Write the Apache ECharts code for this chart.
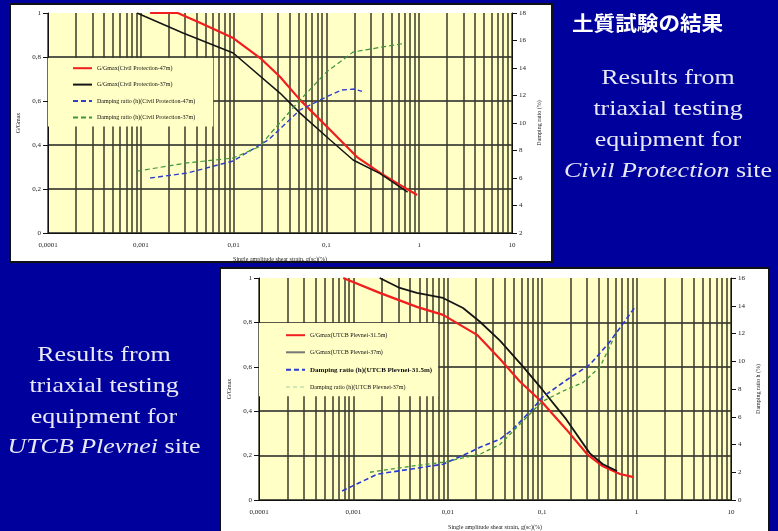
<!DOCTYPE html>
<html>
<head>
<meta charset="utf-8">
<script src="https://cdn.jsdelivr.net/npm/echarts/dist/echarts.min.js"></script>
<style>
html, body { margin: 0; padding: 0; background: #00009c; }
#main { width: 778px; height: 531px; }
</style>
</head>
<body>
<div id="main"></div>
<script>
// tick labels
const xTickLabels = ['0,0001', '0,001', '0,01', '0,1', '1', '10']
const gLabels = ['0', '0,2', '0,4', '0,6', '0,8', '1']
const minorSteps = [2, 3, 4, 5, 6, 7, 8, 9]
const decades = [0.0001, 0.001, 0.01, 0.1, 1]

// Civil Protection site: [strain %, value]
const cpG47 = [[0.00126, 1.0], [0.0025, 1.0], [0.0044, 0.955], [0.0099, 0.886], [0.02, 0.79], [0.0316, 0.71], [0.052, 0.605], [0.11, 0.468], [0.214, 0.345], [0.38, 0.273], [0.6, 0.222], [0.95, 0.173]]
const cpG37 = [[0.00091, 1.0], [0.00285, 0.909], [0.0099, 0.818], [0.0316, 0.636], [0.052, 0.545], [0.11, 0.423], [0.194, 0.332], [0.38, 0.27], [0.75, 0.186]]
const cpH47 = [[0.00126, 6.0], [0.00316, 6.36], [0.0099, 7.24], [0.024, 8.8], [0.052, 10.95], [0.1, 11.9], [0.147, 12.4], [0.2, 12.47], [0.242, 12.3]]
const cpH37 = [[0.00091, 6.5], [0.00316, 7.1], [0.0099, 7.45], [0.0193, 8.3], [0.0247, 9.2], [0.052, 11.67], [0.1, 13.7], [0.194, 15.16], [0.38, 15.5], [0.7, 15.8]]

// UTCB Plevnei site
const utG31 = [[0.00078, 1.0], [0.0019, 0.933], [0.0047, 0.87], [0.0089, 0.834], [0.0204, 0.744], [0.0357, 0.635], [0.058, 0.534], [0.1, 0.44], [0.18, 0.318], [0.3, 0.206], [0.44, 0.152], [0.667, 0.117], [0.93, 0.103]]
const utG37 = [[0.0019, 1.0], [0.0031, 0.955], [0.0047, 0.933], [0.0089, 0.91], [0.0145, 0.865], [0.0219, 0.803], [0.0357, 0.718], [0.063, 0.6], [0.1, 0.498], [0.18, 0.363], [0.32, 0.21], [0.44, 0.161], [0.62, 0.13]]
const utH31 = [[0.00076, 0.65], [0.0018, 1.87], [0.004, 2.22], [0.0089, 2.58], [0.0172, 3.44], [0.0219, 3.8], [0.0357, 4.38], [0.049, 5.1], [0.08, 6.6], [0.1, 7.4], [0.197, 8.82], [0.32, 9.76], [0.52, 11.4], [0.96, 13.9]]
const utH37 = [[0.0015, 2.0], [0.004, 2.43], [0.0089, 2.72], [0.0219, 3.3], [0.0357, 4.0], [0.1, 7.1], [0.18, 7.96], [0.27, 8.46], [0.41, 9.6], [0.52, 11.05], [0.58, 11.76]]

const serif = '"Liberation Serif", "DejaVu Serif", serif'
const gridColor = '#3a3a2a'
const plotBg = '#ffffc6'
const textColor = '#e8e8f6'
const xName = 'Single amplitude shear strain, g(sc)(%)'

const minorX = []
decades.forEach(d => minorSteps.forEach(s => minorX.push(+(d * s).toPrecision(3))))

function logX(gridIndex, nameGap) {
  return {
    type: 'log',
    logBase: 10,
    gridIndex: gridIndex,
    min: 0.0001,
    max: 10,
    name: xName,
    nameLocation: 'middle',
    nameGap: nameGap,
    nameTextStyle: { fontFamily: serif, fontSize: 6, color: '#222' },
    axisLine: { show: true, lineStyle: { color: '#111', width: 1 } },
    axisTick: { show: false },
    axisLabel: {
      fontFamily: serif,
      fontSize: 7,
      color: '#222',
      margin: 9,
      formatter: v => xTickLabels[Math.round(Math.log10(v)) + 4]
    },
    splitLine: { show: true, lineStyle: { color: gridColor, width: 1.5 } }
  }
}

function leftY(gridIndex) {
  return {
    type: 'value',
    gridIndex: gridIndex,
    position: 'left',
    min: 0,
    max: 1,
    interval: 0.2,
    name: 'G/Gmax',
    nameLocation: 'middle',
    nameGap: 25,
    nameTextStyle: { fontFamily: serif, fontSize: 6, color: '#222' },
    axisLine: { show: true, lineStyle: { color: '#111', width: 1 } },
    axisTick: { show: true, inside: false, length: 5, lineStyle: { color: '#111' } },
    axisLabel: {
      fontFamily: serif,
      fontSize: 7,
      color: '#222',
      margin: 7,
      formatter: v => gLabels[Math.round(v / 0.2)]
    },
    splitLine: { show: true, showMaxLine: false, lineStyle: { color: '#222', width: 1.5 } }
  }
}

function rightY(gridIndex, min, max, name) {
  return {
    type: 'value',
    gridIndex: gridIndex,
    position: 'right',
    min: min,
    max: max,
    interval: 2,
    name: name,
    nameLocation: 'middle',
    nameRotate: 90,
    nameGap: 22,
    nameTextStyle: { fontFamily: serif, fontSize: 6, color: '#222' },
    axisLine: { show: true, lineStyle: { color: '#111', width: 1 } },
    axisTick: { show: true, inside: false, length: 5, lineStyle: { color: '#111' } },
    axisLabel: { fontFamily: serif, fontSize: 7, color: '#222', margin: 7 },
    splitLine: { show: false }
  }
}

// minor log gridlines (2..9 in every decade), kept under the legend boxes
function minorGrid(axisIndex) {
  return {
    type: 'line',
    xAxisIndex: axisIndex,
    yAxisIndex: axisIndex * 2,
    data: [],
    z: 1,
    silent: true,
    markLine: {
      z: 1,
      silent: true,
      precision: 8,
      symbol: 'none',
      label: { show: false },
      lineStyle: { color: gridColor, width: 1.5, type: 'solid' },
      data: minorX.map(v => ({ xAxis: v }))
    }
  }
}

function curve(name, data, xi, yi, color, width, type) {
  return {
    name: name,
    type: 'line',
    xAxisIndex: xi,
    yAxisIndex: yi,
    data: data,
    symbol: 'none',
    z: 3,
    itemStyle: { color: color },
    lineStyle: { color: color, width: width, type: type || 'solid' }
  }
}

function legendBox(left, top, padding, gap, items) {
  return {
    orient: 'vertical',
    left: left,
    top: top,
    padding: padding,
    itemWidth: 19,
    itemHeight: 8,
    itemGap: gap,
    backgroundColor: plotBg,
    selectedMode: false,
    itemStyle: { opacity: 0 },
    textStyle: { fontFamily: serif, fontSize: 6, color: '#111' },
    data: items
  }
}

function textLines(lines, cx, ys) {
  return lines.map((t, i) => ({
    type: 'text',
    x: cx,
    y: ys[i],
    scaleX: 1.18,
    style: {
      text: t,
      fill: textColor,
      fontFamily: serif,
      fontSize: 22,
      align: 'center',
      verticalAlign: 'middle',
      rich: { i: { fontStyle: 'italic', fontFamily: serif, fontSize: 22, fill: textColor } }
    }
  }))
}

const chart = echarts.init(document.getElementById('main'))

chart.setOption({
  animation: false,
  backgroundColor: '#00009c',
  grid: [
    { left: 48, top: 13, width: 464, height: 220, show: true, backgroundColor: plotBg, borderWidth: 0 },
    { left: 259, top: 278, width: 472, height: 223, show: true, backgroundColor: plotBg, borderWidth: 0 }
  ],
  xAxis: [logX(0, 23), logX(1, 24)],
  yAxis: [
    leftY(0),
    rightY(0, 2, 18, 'Damping ratio (%)'),
    leftY(1),
    rightY(1, 0, 16, 'Damping ratio h (%)')
  ],
  legend: [
    legendBox(48, 58, [7, 18, 6, 24], 10, [
      'G/Gmax(Civil Protection-47m)',
      'G/Gmax(Civil Protection-37m)',
      'Damping ratio (h)(Civil Protection-47m)',
      'Damping ratio (h)(Civil Protection-37m)'
    ]),
    legendBox(259, 323, [9, 6, 6, 26], 10.7, [
      'G/Gmax(UTCB Plevnei-31.5m)',
      { name: 'G/Gmax(UTCB Plevnei-37m)', lineStyle: { color: '#777' } },
      { name: 'Damping ratio (h)(UTCB Plevnei-31.5m)', textStyle: { fontSize: 7, fontWeight: 'bold' } },
      { name: 'Damping ratio (h)(UTCB Plevnei-37m)', lineStyle: { color: '#cfe6b8' } }
    ])
  ],
  graphic: [
    { type: 'rect', z: -5, shape: { x: 10, y: 4, width: 542, height: 258 }, style: { fill: '#fff', stroke: '#111', lineWidth: 2 } },
    { type: 'rect', z: -5, shape: { x: 220, y: 268, width: 549, height: 272 }, style: { fill: '#fff', stroke: '#111', lineWidth: 2 } },
    {
      type: 'text', x: 572, y: 23, scaleX: 1.08,
      style: { text: '土質試験の結果', fill: '#ffffff', fontFamily: '"Noto Sans CJK JP"', fontSize: 20, fontWeight: 'bold', verticalAlign: 'middle' }
    }
  ].concat(
    textLines(['Results from', 'triaxial testing', 'equipment for', '{i|Civil Protection} site'], 668, [78, 109, 140, 171]),
    textLines(['Results from', 'triaxial testing', 'equipment for', '{i|UTCB Plevnei} site'], 104, [355, 386, 417, 447])
  ),
  series: [
    minorGrid(0),
    minorGrid(1),
    curve('G/Gmax(Civil Protection-47m)', cpG47, 0, 0, '#f01e1e', 2.2),
    curve('G/Gmax(Civil Protection-37m)', cpG37, 0, 0, '#151515', 1.5),
    curve('Damping ratio (h)(Civil Protection-47m)', cpH47, 0, 1, '#3040c8', 1.4, [5, 3]),
    curve('Damping ratio (h)(Civil Protection-37m)', cpH37, 0, 1, '#3f963a', 1.2, [5, 3]),
    curve('G/Gmax(UTCB Plevnei-31.5m)', utG31, 1, 2, '#f01e1e', 2.2),
    curve('G/Gmax(UTCB Plevnei-37m)', utG37, 1, 2, '#151515', 1.8),
    curve('Damping ratio (h)(UTCB Plevnei-31.5m)', utH31, 1, 3, '#2a3ad0', 1.6, [5, 3]),
    curve('Damping ratio (h)(UTCB Plevnei-37m)', utH37, 1, 3, '#3f963a', 1.3, [4, 3])
  ]
})
</script>
</body>
</html>
